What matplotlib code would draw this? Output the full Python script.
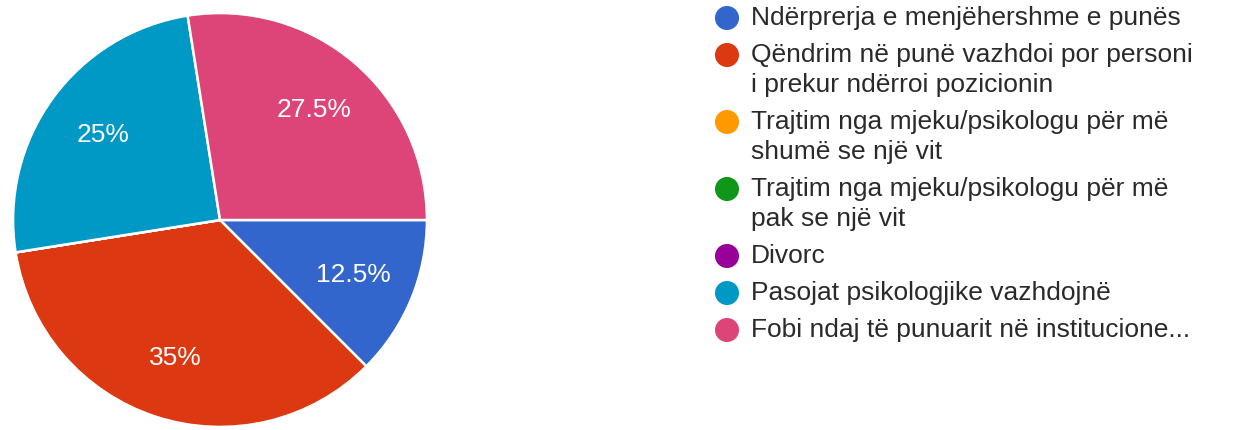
import matplotlib.pyplot as plt

plt.rcParams['font.family'] = ['Liberation Sans', 'DejaVu Sans']

labels = [
    'Ndërprerja e menjëhershme e punës',
    'Qëndrim në punë vazhdoi por personi\ni prekur ndërroi pozicionin',
    'Trajtim nga mjeku/psikologu për më\nshumë se një vit',
    'Trajtim nga mjeku/psikologu për më\npak se një vit',
    'Divorc',
    'Pasojat psikologjike vazhdojnë',
    'Fobi ndaj të punuarit në institucione...',
]
percent = [12.5, 35, 0, 0, 0, 25, 27.5]
colors = ['#3366cc', '#dc3912', '#ff9900', '#109618', '#990099', '#0099c6', '#dd4477']


def pct_label(p):
    if p <= 0:
        return ''
    return f'{p:.1f}'.rstrip('0').rstrip('.') + '%'


W, H = 1244, 430
fig = plt.figure(figsize=(W / 100, H / 100), dpi=100)

# pie on the left
ax = fig.add_axes([11 / W, 1 / H, 418 / W, 418 / H])
wedges, texts, autotexts = ax.pie(
    percent, colors=colors, startangle=0, counterclock=False,
    autopct=pct_label, pctdistance=0.7, radius=1,
    wedgeprops=dict(edgecolor='white', linewidth=1.8),
    textprops=dict(color='white', fontsize=19),
)
ax.set_xlim(-1.01, 1.01)
ax.set_ylim(-1.01, 1.01)
ax.set_aspect('equal')
ax.axis('off')

# legend drawn in pixel coordinates
lax = fig.add_axes([0, 0, 1, 1])
lax.set_xlim(0, W)
lax.set_ylim(H, 0)
lax.axis('off')

line_h = 30
gap = 7
y = 18
for lab, col in zip(labels, colors):
    lax.scatter([727], [y], s=300, color=col, edgecolors='none')
    for i, line in enumerate(lab.split('\n')):
        lax.text(751, y + i * line_h, line, fontsize=19, color='#2a2a2a',
                 va='center', ha='left')
    y += len(lab.split('\n')) * line_h + gap

fig.savefig('out.png', dpi=100, facecolor='white')
